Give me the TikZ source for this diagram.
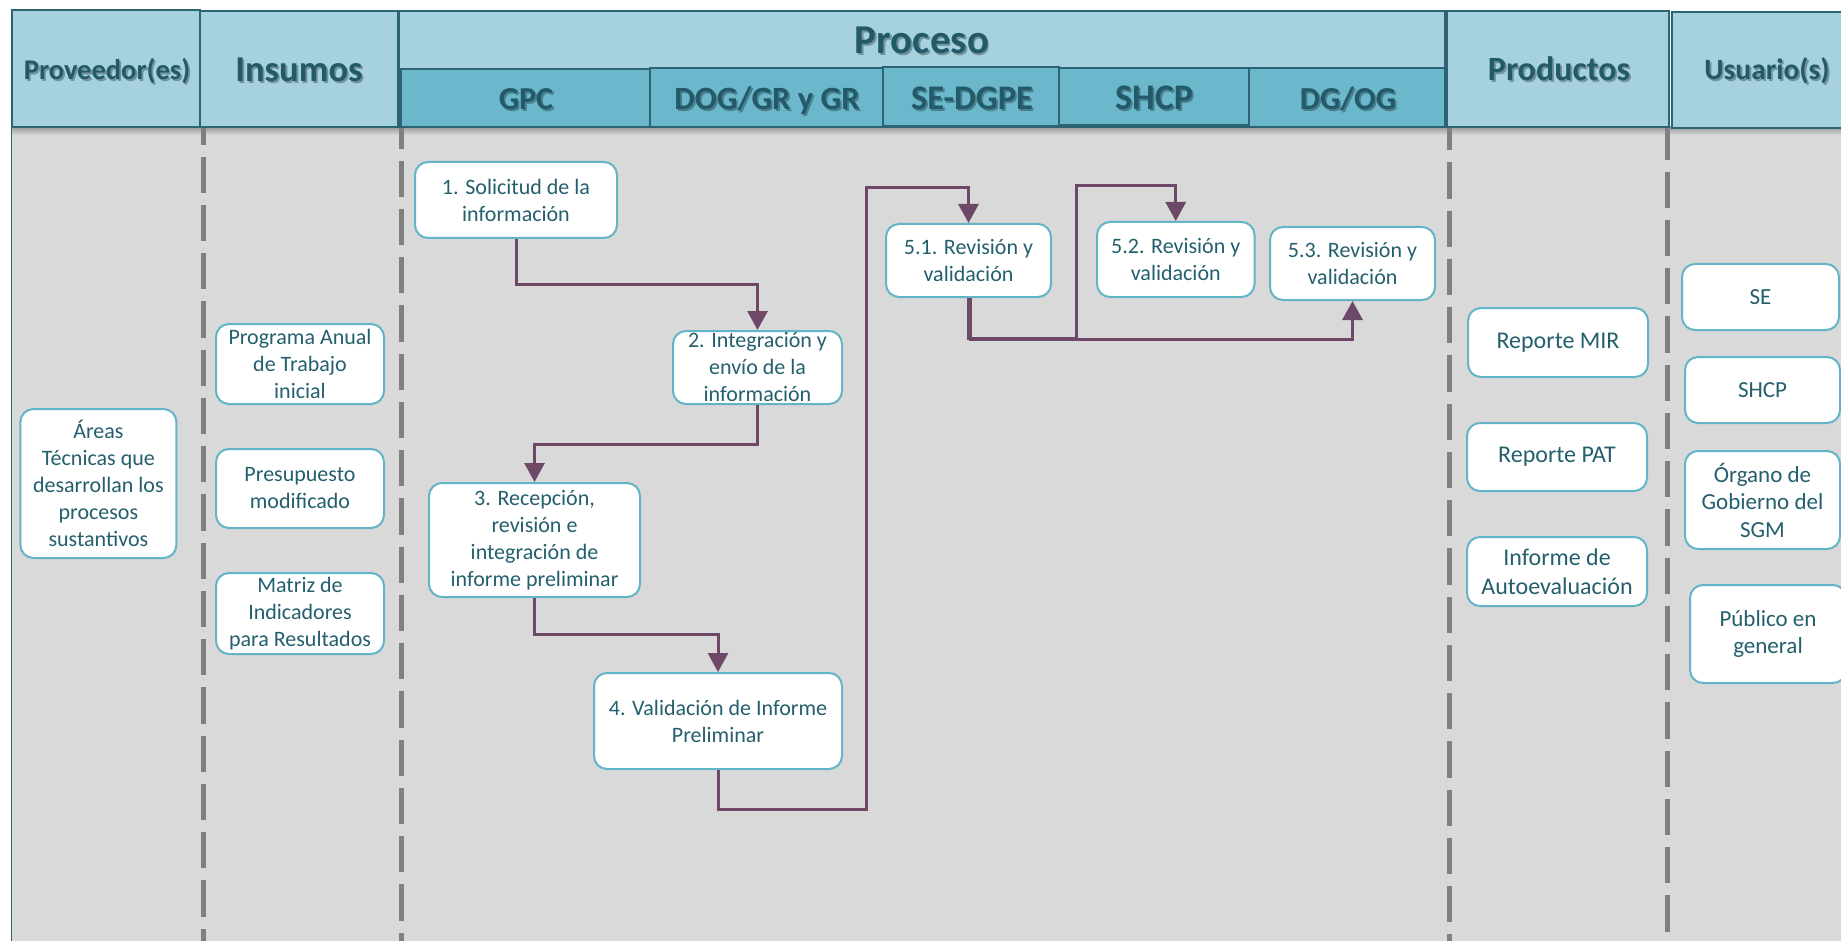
\documentclass[tikz,border=0pt]{standalone}
\usepackage{fontspec}
\setmainfont{Carlito}
\usetikzlibrary{arrows.meta}
\definecolor{hdrlight}{HTML}{A5D2DE}
\definecolor{hdrdark}{HTML}{6BB7CB}
\definecolor{hdrline}{HTML}{2D6473}
\definecolor{hdrtext}{HTML}{235A69}
\definecolor{bodybg}{HTML}{D9D9D9}
\definecolor{shadowc}{HTML}{9A9A9A}
\definecolor{boxline}{HTML}{64B4C8}
\definecolor{boxtext}{HTML}{245F6E}
\definecolor{arrowc}{HTML}{6E4867}
\definecolor{dashc}{HTML}{808080}
\newcommand\htx[5]{%
  \node[hshadow,font=\bfseries\fontsize{#4}{#4}\selectfont,anchor=base] at (#2+1.8,#3+1.8) {#5};
  \node[htext,font=\bfseries\fontsize{#4}{#4}\selectfont,anchor=base] (#1) at (#2,#3) {#5};}
\newcommand\pb[7][]{%
  \node[pbox,minimum width=#4pt,minimum height=#5pt] (#2) at (#3) {};
  \node[ptext,#1] (#2-t) at (#2) {#6#7};}
\begin{document}
\begin{tikzpicture}[x=1pt,y=-1pt,
  hbox/.style={draw=hdrline, line width=2pt, fill=hdrlight},
  sbox/.style={draw=hdrline, line width=2pt, fill=hdrdark},
  htext/.style={text=hdrtext, inner sep=0pt},
  hshadow/.style={text=black, opacity=0.3, inner sep=0pt},
  pbox/.style={draw=boxline, line width=2pt, fill=white, rounded corners=13pt, inner sep=0pt},
  ptext/.style={text=boxtext, align=center, inner sep=0pt, font=\fontsize{22}{27}\selectfont},
  prodtext/.style={font=\fontsize{24}{29}\selectfont},
  usertext/.style={font=\fontsize{23}{27.5}\selectfont},
  flow/.style={draw=arrowc, line width=3pt, -{Triangle[width=20pt,length=19pt]}},
  lane/.style={draw=dashc, line width=5pt, dash pattern=on 36.2pt off 12.05pt},
]
\useasboundingbox (0,0) rectangle (1841,941);
\clip (0,0) rectangle (1841,941);
\fill[white] (0,0) rectangle (1841,941);
% body
\fill[bodybg] (11.7,127) rectangle (1841,941);
\shade[top color=shadowc, bottom color=bodybg] (11.7,127) rectangle (1841,135);
\draw[lane, dash phase=18.6pt] (203,127) -- (203,941);
\draw[lane, dash phase=14.6pt] (401.5,127) -- (401.5,941);
\draw[lane, dash phase=12.9pt] (1449.5,127) -- (1449.5,941);
\draw[lane, dash phase=3.6pt] (1667,127) -- (1667,941);
\draw[hdrline, line width=1.5pt] (11.7,127) -- (11.7,941);
% header
\draw[hbox] (11.7,10.5) rectangle (199.7,127);
\draw[hbox] (199.7,11.5) rectangle (397.5,127);
\draw[hbox] (399,11) rectangle (1445,127);
\draw[sbox] (401,69) rectangle (650,127);
\draw[sbox] (650,68) rectangle (882.5,127);
\draw[sbox] (882.5,67) rectangle (1059,126.5);
\draw[sbox] (1059,68) rectangle (1249,125.5);
\draw[sbox] (1249,68) rectangle (1445,127);
\draw[hbox] (1447,11) rectangle (1669,127);
\draw[hbox] (1672,12) rectangle (1862,128);
\htx{hprov}{107}{80}{28.5}{Proveedor(es)}
\htx{hins}{299}{81.7}{36.5}{Insumos}
\htx{hproc}{922}{53.3}{41}{Proceso}
\htx{hgpc}{526}{110}{32}{GPC}
\htx{hdog}{767}{110}{32.5}{DOG/GR y GR}
\htx{hse}{972}{110}{34.5}{SE-DGPE}
\htx{hshcp}{1154}{110}{36}{SHCP}
\htx{hdg}{1348}{110}{32}{DG/OG}
\htx{hprod}{1559}{80.7}{34}{Productos}
\htx{husr}{1767}{80}{29.5}{Usuario(s)}
% boxes
\pb{areas}{98.4,483.5}{156}{149}{\'Areas\\T\'ecnicas que\\desarrollan los\\}{procesos\\sustantivos}
\pb{pat}{300,364}{168}{80}{Programa Anual\\de Trabajo\\inicial}{}
\pb{pres}{300,488.5}{168}{79}{Presupuesto\\modificado}{}
\pb{matriz}{300,613.5}{168}{81}{Matriz de\\Indicadores\\para Resultados}{}
\pb{b1}{516,200}{202}{76}{1. Solicitud de la\\informaci\'on}{}
\pb{b2}{757.5,367.5}{169}{73}{2. Integraci\'on y\\env\'io de la\\informaci\'on}{}
\pb{b3}{534.5,540}{211}{114}{3. Recepci\'on,\\revisi\'on e\\integraci\'on de\\}{informe preliminar}
\pb{b4}{718,721}{248}{96}{4. Validaci\'on de Informe\\Preliminar}{}
\pb{b51}{968.5,260.5}{165}{73}{5.1. Revisi\'on y\\validaci\'on}{}
\pb{b52}{1175.75,259.5}{157.5}{75}{5.2. Revisi\'on y\\validaci\'on}{}
\pb{b53}{1352.5,263.5}{165}{73}{5.3. Revisi\'on y\\validaci\'on}{}
\pb[prodtext]{rmir}{1558,342.5}{180}{69}{Reporte MIR}{}
\pb[prodtext]{rpat}{1557,457}{180}{68}{Reporte PAT}{}
\pb[prodtext]{rauto}{1557,571.5}{180}{69}{Informe de\\Autoevaluaci\'on}{}
\pb[usertext]{use}{1760.5,297}{157}{66}{SE}{}
\pb[usertext]{ushcp}{1762.5,390}{155}{66}{SHCP}{}
\pb[usertext]{uorg}{1762.5,500}{155}{98}{\'Organo de\\Gobierno del\\SGM}{}
\pb[usertext]{upub}{1768,634}{156}{98}{P\'ublico en\\general}{}
% connectors
\coordinate (w4a) at (866,809.3);
\coordinate (w4b) at (866,188);
\coordinate (j1) at (1076,338);
\coordinate (w5b) at (1076,186);
\coordinate (j2) at (1352.5,339.8);
\draw[flow] (b1.south) -- ++(0,45.3) -| (b2.north);
\draw[flow] (b2.south) -- ++(0,39) -| (b3.north);
\draw[flow] (b3.south) -- ++(0,36) -| (b4.north);
\draw[flow] (b4.south) |- (w4a) -- (w4b) -| (b51.north);
\draw[flow] (b51.south) |- (j1) -- (w5b) -| (b52.north);
\draw[flow] ([xshift=2.2pt]b51.south) |- (j2) -- (b53.south);
\end{tikzpicture}
\end{document}
